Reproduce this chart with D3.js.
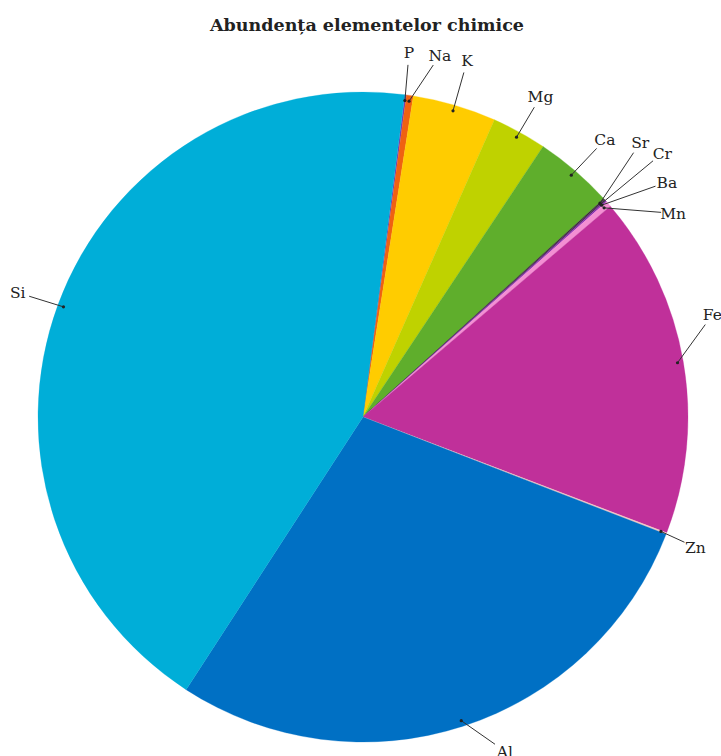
<!DOCTYPE html>
<html>
<head>
<meta charset="utf-8">
<script src="https://cdn.jsdelivr.net/npm/d3@7"></script>
<style>
  body { margin: 0; background: #fff; }
  text { font-family: "DejaVu Serif", serif; fill: #222; }
</style>
</head>
<body>
<div id="chart"></div>
<script>
// element, share in %
var elements = ['P', 'Na', 'K', 'Mg', 'Ca', 'Sr', 'Cr', 'Ba', 'Mn', 'Fe', 'Zn', 'Al', 'Si'];
var shares = [0.08, 0.34, 4.15, 2.72, 3.94, 0.06, 0.06, 0.08, 0.28, 17.03, 0.08, 28.28, 42.89];
var colors = ['#7a3bb8', '#ef6112', '#ffcc00', '#bfd200', '#5fae2c', '#3a2a3a', '#4a2a5a', '#8a2fb2',
              '#f38fd3', '#c0309a', '#f4c8c4', '#0070c4', '#00aed8'];
var title = 'Abundența elementelor chimice';

// label placement (angle in degrees from 12 o'clock, distance from centre)
var labelAngle = [7.2, 12, 16.3, 29, 41.1, 45.3, 48.6, 52.3, 56.7, 73.7, 111.4, 157, 289.8];
var labelDist = [367, 370, 371, 366, 368, 390, 399, 384, 371, 364, 357, 363, 367];

var width = 721, height = 756;
var cx = 363, cy = 417, radius = 325;

var svg = d3.select('#chart').append('svg')
    .attr('width', width)
    .attr('height', height);

svg.append('text')
    .attr('x', 367)
    .attr('y', 31)
    .attr('text-anchor', 'middle')
    .style('font-size', '17.5px')
    .style('font-weight', 'bold')
    .text(title);

var data = elements.map(function(e, i) { return { name: e, value: shares[i], color: colors[i], i: i }; });

var startA = 7.4 * Math.PI / 180;
var pie = d3.pie()
    .sort(null)
    .value(function(d) { return d.value; })
    .startAngle(startA)
    .endAngle(startA + 2 * Math.PI);

var arcs = pie(data);
var arc = d3.arc().innerRadius(0).outerRadius(radius);

var g = svg.append('g')
    .attr('transform', 'translate(' + cx + ',' + cy + ')');

g.selectAll('path')
    .data(arcs)
    .enter()
    .append('path')
    .attr('d', arc)
    .style('fill', function(d) { return d.data.color; })
    .style('stroke', function(d) { return d.data.color; })
    .style('stroke-width', 0.3);

function polar(a, r) {
    return [Math.sin(a) * r, -Math.cos(a) * r];
}

// leader lines and labels
var labels = g.selectAll('.lbl')
    .data(arcs)
    .enter()
    .append('g')
    .attr('class', 'lbl');

labels.each(function(d) {
    var sel = d3.select(this);
    var mid = (d.startAngle + d.endAngle) / 2;
    var dot = polar(mid, radius * 0.982);
    var lp = polar(labelAngle[d.data.i] * Math.PI / 180, labelDist[d.data.i]);
    var dx = dot[0] - lp[0], dy = dot[1] - lp[1];
    var len = Math.sqrt(dx * dx + dy * dy);
    var off = 12;
    var s = [lp[0] + dx / len * off, lp[1] + dy / len * off];

    sel.append('line')
        .attr('x1', s[0]).attr('y1', s[1])
        .attr('x2', dot[0]).attr('y2', dot[1])
        .style('stroke', '#333')
        .style('stroke-width', 1);

    sel.append('circle')
        .attr('cx', dot[0]).attr('cy', dot[1])
        .attr('r', 1.6)
        .style('fill', '#222');

    sel.append('text')
        .attr('x', lp[0])
        .attr('y', lp[1])
        .attr('dy', '0.35em')
        .attr('text-anchor', 'middle')
        .style('font-size', '15.5px')
        .text(d.data.name);
});
</script>
</body>
</html>
